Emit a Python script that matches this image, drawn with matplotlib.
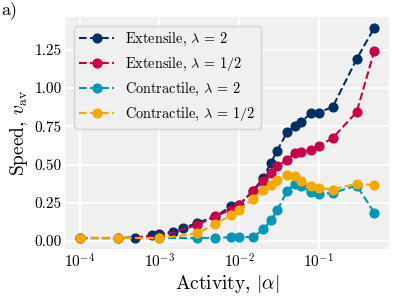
import numpy as np
import matplotlib.pyplot as plt

plt.rcParams['font.family'] = 'serif'
plt.rcParams['font.serif'] = ['cmr10']
plt.rcParams['mathtext.fontset'] = 'cm'
plt.rcParams['axes.formatter.use_mathtext'] = True

# activity values
x_ext2 = [1e-4, 3e-4, 5e-4, 8e-4, 1e-3, 1.5e-3, 2e-3, 3e-3, 5e-3, 8e-3, 0.01, 0.015,
          0.02, 0.025, 0.03, 0.04, 0.05, 0.06, 0.08, 0.1, 0.15, 0.3, 0.5]
x_other = [1e-4, 3e-4, 1e-3, 3e-3, 5e-3, 8e-3, 0.01, 0.015, 0.02, 0.025, 0.03,
           0.04, 0.05, 0.06, 0.08, 0.1, 0.15, 0.3, 0.5]

v_ext2 = [0.02, 0.02, 0.022, 0.037, 0.048, 0.06, 0.083, 0.12, 0.16, 0.228, 0.235, 0.33,
          0.41, 0.51, 0.59, 0.71, 0.75, 0.777, 0.837, 0.84, 0.877, 1.19, 1.395]
v_ext_half = [0.02, 0.02, 0.03, 0.105, 0.163, 0.205, 0.235, 0.33, 0.39, 0.446, 0.49,
              0.528, 0.575, 0.582, 0.595, 0.62, 0.674, 0.844, 1.244]
v_con2 = [0.02, 0.02, 0.02, 0.02, 0.022, 0.025, 0.025, 0.028, 0.076, 0.135, 0.2,
          0.326, 0.375, 0.36, 0.322, 0.31, 0.315, 0.363, 0.185]
v_con_half = [0.022, 0.022, 0.018, 0.05, 0.112, 0.17, 0.205, 0.276, 0.337, 0.365, 0.40,
              0.435, 0.425, 0.39, 0.359, 0.348, 0.337, 0.376, 0.365]

fig = plt.figure(figsize=(4.07, 3.05), dpi=100)
ax = fig.add_axes([0.160, 0.184, 0.796, 0.760])
ax.set_facecolor('#f0f0f0')
for s in ax.spines.values():
    s.set_visible(False)
ax.grid(True, color='white', linewidth=1.3)
ax.set_axisbelow(True)

kw = dict(ls='--', marker='o', ms=6.3, lw=1.5)
ax.plot(x_ext2, v_ext2, color='#00305f', label=r'Extensile, $\lambda\,=\,2$', **kw)
ax.plot(x_other, v_ext_half, color='#c8004b', label=r'Extensile, $\lambda\,=\,1/2$', **kw)
ax.plot(x_other, v_con2, color='#0097b7', label=r'Contractile, $\lambda\,=\,2$', **kw)
ax.plot(x_other, v_con_half, color='#f5a800', label=r'Contractile, $\lambda\,=\,1/2$', **kw)

ax.set_xscale('log')
ax.minorticks_off()
ax.set_yticks([0.0, 0.25, 0.5, 0.75, 1.0, 1.25])
ax.set_yticklabels(['0.00', '0.25', '0.50', '0.75', '1.00', '1.25'])
ax.tick_params(length=0, labelsize=11, pad=2.5)
ax.set_xlabel(r'Activity, $|\alpha|$', fontsize=14, labelpad=2)
ax.set_ylabel(r'Speed, $v_{\rm av}$', fontsize=14, labelpad=3)

ax.legend(loc='upper left', fontsize=10.3, frameon=True, facecolor='#f0f0f0',
          edgecolor='#d0d0d0', framealpha=0.9, handlelength=2.4,
          labelspacing=0.55, handletextpad=0.8, borderaxespad=0.6)
fig.text(0.002, 0.995, 'a)', fontsize=13, va='top', ha='left')

fig.savefig('out.png', dpi=100)
